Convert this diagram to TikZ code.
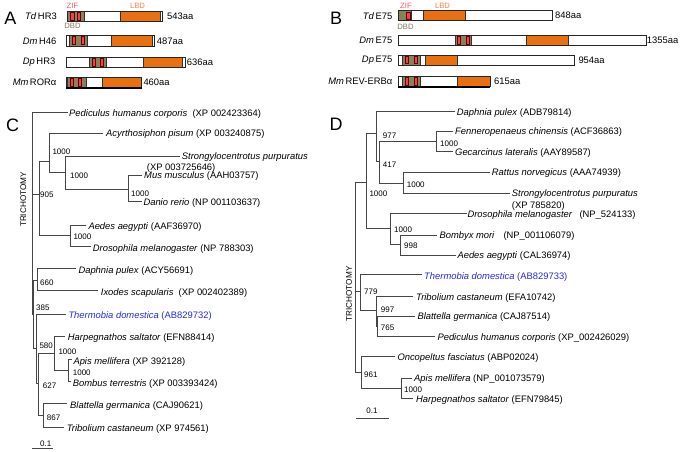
\documentclass[tikz,border=0pt]{standalone}
\usepackage{fontspec}
\setmainfont{Liberation Sans}
\definecolor{dbd}{RGB}{140,128,88}
\definecolor{zif}{RGB}{230,70,80}
\definecolor{lbd}{RGB}{232,112,16}
\definecolor{zifl}{RGB}{240,90,100}
\definecolor{lbdl}{RGB}{240,130,70}
\definecolor{dbdl}{RGB}{130,120,100}
\definecolor{tdblue}{RGB}{40,40,230}
\definecolor{treegray}{RGB}{70,70,70}
\newcommand\tleaf[6]{%
  \coordinate (#1) at (#3,#2);
  \node[leaftext] (#1t) at (#4,#5) {#6};}
\newcommand\tjoin[3]{\draw[tree] (#2) -- (#1 |- #2) -- (#1 |- #3) -- (#3);}
\newcommand\dseg[5]{\filldraw[fill=#5,draw=black!80,line width=0.6pt] (#1,#3) rectangle (#2,#4);}
\newcommand\dzif[4]{\filldraw[fill=zif,draw=black!60!red,line width=0.5pt] (#1,#3) rectangle (#2,#4);}
\newcommand\dbar[4]{\draw[bar] (#1,#3) rectangle (#2,#4);}
\begin{document}
\begin{tikzpicture}[x=1pt,y=-1pt,
  tree/.style={draw=treegray,line width=0.8pt},
  leaftext/.style={inner sep=0pt,anchor=west,font=\fontsize{9.4}{11}\selectfont},
  boot/.style={inner sep=0pt,anchor=west,font=\fontsize{8}{9}\selectfont},
  lab/.style={inner sep=0pt,anchor=east,font=\fontsize{9.4}{11}\selectfont},
  len/.style={inner sep=0pt,anchor=west,font=\fontsize{9.4}{11}\selectfont},
  dom/.style={inner sep=0pt,font=\fontsize{7.7}{9}\selectfont},
  panel/.style={inner sep=0pt,font=\fontsize{18}{20}\selectfont},
  tri/.style={inner sep=0pt,rotate=90,font=\fontsize{8.2}{9}\selectfont},
  bar/.style={draw=black!85,line width=0.8pt}]
\useasboundingbox (0,0) rectangle (683,452);

% ---------------- Panel A ----------------
\node[panel] (pA) at (10.5,18.5) {A};
\node[dom,text=zifl] (aZIF) at (72.5,5.5) {ZIF};
\node[dom,text=lbdl] (aLBD) at (137.5,5.5) {LBD};
\node[dom,text=dbdl] (aDBD) at (72.5,26) {DBD};
% TdHR3
\fill[white] (67.3,11) rectangle (162.7,21.7);
\dseg{67.3}{84.3}{11}{21.7}{dbd}
\dzif{70.7}{74}{12.7}{20}\dzif{77.3}{80.7}{12.7}{20}
\dseg{120.3}{160.7}{11}{21.7}{lbd}
\dbar{67.3}{162.7}{11}{21.7}
\node[lab] (aTd) at (57,16.3) {\textit{Td}\,HR3};
\node[len] (aTdL) at (167,16.3) {543aa};
% DmH46
\dseg{69.3}{87.3}{35}{46}{dbd}
\dzif{72}{75}{36.7}{44.3}\dzif{81}{84}{36.7}{44.3}
\dseg{111.7}{152.7}{35}{46}{lbd}
\dbar{66.7}{154.3}{35}{46}
\node[lab] (aDm) at (56.5,41) {\textit{Dm}\,H46};
\node[len] (aDmL) at (156.7,41) {487aa};
% DpHR3
\dseg{89.3}{106.7}{57}{67.5}{dbd}
\dzif{92}{95.3}{58.7}{65.8}\dzif{100}{103.3}{58.7}{65.8}
\dseg{143.3}{182.7}{57}{67.5}{lbd}
\dbar{66}{185}{57}{67.5}
\node[lab] (aDp) at (55.5,62.3) {\textit{Dp}\,HR3};
\node[len] (aDpL) at (186.7,62.3) {636aa};
% MmRORa
\dseg{67}{86}{77}{87.7}{dbd}
\dzif{70}{73.3}{78.7}{86}\dzif{78.3}{81.7}{78.7}{86}
\dseg{102.3}{141.7}{77}{87.7}{lbd}
\dbar{66}{141.7}{77}{87.7}
\draw[line width=1.6pt] (66,88) -- (142,88);
\node[lab] (aMm) at (56.5,82.3) {\textit{Mm}\,RORα};
\node[len] (aMmL) at (143.3,82.3) {460aa};

% ---------------- Panel B ----------------
\node[panel] (pB) at (336,18.5) {B};
\node[dom,text=zifl] (bZIF) at (406,5.5) {ZIF};
\node[dom,text=lbdl] (bLBD) at (442.5,5.5) {LBD};
\node[dom,text=dbdl] (bDBD) at (405.5,26.7) {DBD};
% TdE75
\dseg{398.3}{411.5}{10.7}{20.7}{dbd}
\dzif{406.5}{410.3}{12.3}{19}
\dseg{423.3}{465}{10.7}{20.7}{lbd}
\dbar{398.3}{552.3}{10.7}{20.7}
\node[lab] (bTd) at (392.5,15.7) {\textit{Td}\,E75};
\node[len] (bTdL) at (555,15.7) {848aa};
% DmE75
\dseg{455}{471.7}{35}{45.7}{dbd}
\dzif{457.3}{460.7}{36.7}{44}\dzif{466}{469.3}{36.7}{44}
\dseg{526.7}{568.3}{35}{45.7}{lbd}
\dbar{398.3}{646}{35}{45.7}
\node[lab] (bDm) at (392.5,40.5) {\textit{Dm}\,E75};
\node[len] (bDmL) at (646.7,40.5) {1355aa};
% DpE75
\dseg{402.7}{420}{55}{65}{dbd}
\dzif{405}{408.3}{56.7}{63.3}\dzif{414}{417.3}{56.7}{63.3}
\dseg{425}{457.3}{55}{65}{lbd}
\dbar{398.3}{574.3}{55}{65}
\node[lab] (bDp) at (392.5,60.5) {\textit{Dp}\,E75};
\node[len] (bDpL) at (578.3,60.5) {954aa};
% MmREV-ERBa
\dseg{402.7}{420}{76}{86.7}{dbd}
\dzif{405}{408.3}{77.7}{85}\dzif{414}{417.3}{77.7}{85}
\dseg{457.3}{490}{76}{86.7}{lbd}
\dbar{398.3}{490}{76}{86.7}
\draw[line width=1.6pt] (398.3,87) -- (490.3,87);
\node[lab] (bMm) at (392.5,81.5) {\textit{Mm}\,REV-ERBα};
\node[len] (bMmL) at (494,81.5) {615aa};

% ---------------- Panel C ----------------
\node[panel] (pC) at (12.5,125) {C};
\node[tri] (cTRI) at (23.3,199.5) {TRICHOTOMY};
\tleaf{cPed}{112}{68}{69}{114}{\textit{Pediculus humanus corporis}\ \ (XP 002423364)}
\tleaf{cAcy}{133}{103.3}{106}{134.5}{\textit{Acyrthosiphon pisum} (XP 003240875)}
\tleaf{cStr}{156}{180}{181.7}{157}{\textit{Strongylocentrotus purpuratus}}
\node[leaftext] (cStr2) at (146.7,168.5) {(XP 003725646)};
\tleaf{cMus}{175.5}{141.7}{144}{176.5}{\textit{Mus musculus} (AAH03757)}
\tleaf{cDan}{201.7}{141.7}{143.3}{203.3}{\textit{Danio rerio} (NP 001103637)}
\tleaf{cAed}{225}{86}{88.3}{227}{\textit{Aedes aegypti} (AAF36970)}
\tleaf{cDro}{246}{90.7}{92.7}{249}{\textit{Drosophila melanogaster} (NP 788303)}
\tleaf{cDap}{268.3}{76}{78.3}{271.5}{\textit{Daphnia pulex} (ACY56691)}
\tleaf{cIxo}{290.7}{98.3}{100.7}{292.7}{\textit{Ixodes scapularis}\ \ (XP 002402389)}
\tleaf{cThe}{314.3}{66}{68.3}{315.7}{\color{tdblue}\textit{Thermobia domestica} (AB829732)}
\tleaf{cHar}{336.7}{65}{67.7}{338}{\textit{Harpegnathos saltator} (EFN88414)}
\tleaf{cApi}{359.3}{71.7}{73.3}{361.7}{\textit{Apis mellifera} (XP 392128)}
\tleaf{cBom}{381.7}{71}{72.7}{384}{\textit{Bombus terrestris} (XP 003393424)}
\tleaf{cBla}{403.3}{66.7}{70}{405.7}{\textit{Blattella germanica} (CAJ90621)}
\tleaf{cTri}{427.3}{64}{66.7}{429.3}{\textit{Tribolium castaneum} (XP 974561)}
\coordinate (cRoot) at (32.3,314);
\coordinate (c905) at (39.3,194.3);
\coordinate (cN1a) at (49,161.7);
\coordinate (cN1b) at (65.7,172);
\coordinate (cN1c) at (128.3,189);
\coordinate (cN1e) at (70,235);
\coordinate (cRest) at (33.3,314);
\coordinate (c660) at (37.3,280);
\coordinate (c385) at (36,348);
\coordinate (c627) at (38.3,383.3);
\coordinate (c580) at (54.3,353.3);
\coordinate (c1d) at (68.3,370.7);
\coordinate (c867) at (43.3,415);
\tjoin{cN1c}{cMus}{cDan}
\tjoin{cN1b}{cStr}{cN1c}
\tjoin{cN1a}{cAcy}{cN1b}
\tjoin{cN1e}{cAed}{cDro}
\tjoin{c905}{cN1a}{cN1e}
\tjoin{c660}{cDap}{cIxo}
\tjoin{c1d}{cApi}{cBom}
\tjoin{c580}{cHar}{c1d}
\tjoin{c867}{cBla}{cTri}
\tjoin{c627}{c580}{c867}
\tjoin{c385}{cThe}{c627}
\tjoin{cRest}{c660}{c385}
\tjoin{cRoot}{cPed}{cRest}
\draw[tree] (cRoot |- c905) -- (c905);
\node[boot] (bc1) at (52.3,151.7) {1000};
\node[boot] (bc2) at (70,176) {1000};
\node[boot] (bc3) at (131,194) {1000};
\node[boot] (bc4) at (40,195) {905};
\node[boot] (bc5) at (73.3,236.7) {1000};
\node[boot] (bc6) at (40,282.7) {660};
\node[boot] (bc7) at (36,307.3) {385};
\node[boot] (bc8) at (39.3,346) {580};
\node[boot] (bc9) at (58.3,351.7) {1000};
\node[boot] (bc10) at (72.7,372.3) {1000};
\node[boot] (bc11) at (42.7,385.7) {627};
\node[boot] (bc12) at (46.7,417.3) {867};
\coordinate (cS0) at (31.7,448.3);
\coordinate (cS1) at (53.3,448.3);
\draw[tree] (cS0) -- (cS1);
\node[boot,anchor=center] (cSl) at (45.8,443.5) {0.1};

% ---------------- Panel D ----------------
\node[panel] (pD) at (336,124.5) {D};
\node[tri] (dTRI) at (349,294) {TRICHOTOMY};
\tleaf{dDap}{111}{455}{456.7}{113}{\textit{Daphnia pulex} (ADB79814)}
\tleaf{dFen}{131.7}{453.3}{455}{132.5}{\textit{Fenneropenaeus chinensis} (ACF36863)}
\tleaf{dGec}{151.7}{453.3}{455}{153.3}{\textit{Gecarcinus lateralis} (AAY89587)}
\tleaf{dRat}{172.7}{490}{491.7}{173.5}{\textit{Rattus norvegicus} (AAA74939)}
\tleaf{dStr}{193.3}{510}{511.7}{194.5}{\textit{Strongylocentrotus purpuratus}}
\node[leaftext] (dStr2) at (511.7,206) {(XP 785820)};
\tleaf{dDro}{213.3}{466.7}{467.3}{215}{\textit{Drosophila melanogaster}}
\node[leaftext] (dDro2) at (579.3,215) {(NP\_524133)};
\tleaf{dBom}{235}{436.7}{439.3}{235.7}{\textit{Bombyx mori}}
\node[leaftext] (dBom2) at (503.3,235.7) {(NP\_001106079)};
\tleaf{dAed}{255}{456}{457.3}{256}{\textit{Aedes aegypti} (CAL36974)}
\tleaf{dThe}{274}{421.7}{424}{277}{\color{tdblue}\textit{Thermobia domestica} (AB829733)}
\tleaf{dTri}{296}{413.3}{416}{297.7}{\textit{Tribolium castaneum} (EFA10742)}
\tleaf{dBla}{316.7}{415}{417.3}{317.3}{\textit{Blattella germanica} (CAJ87514)}
\tleaf{dPed}{336.7}{435}{437.3}{338.3}{\textit{Pediculus humanus corporis} (XP\_002426029)}
\tleaf{dOnc}{356.7}{395}{397.3}{358.3}{\textit{Oncopeltus fasciatus} (ABP02024)}
\tleaf{dApi}{378.3}{411.7}{414}{379.3}{\textit{Apis mellifera} (NP\_001073579)}
\tleaf{dHar}{398.3}{413.3}{416}{400}{\textit{Harpegnathos saltator} (EFN79845)}
\coordinate (dRoot) at (355.7,291.7);
\coordinate (dN1a) at (366,182.7);
\coordinate (dA) at (376.7,133.3);
\coordinate (dB) at (379.3,161.7);
\coordinate (dFenN) at (436.7,141.7);
\coordinate (dRatN) at (403.3,183);
\coordinate (dIns) at (390.7,228.3);
\coordinate (dBomN) at (400.7,244);
\coordinate (d779) at (360.7,291.7);
\coordinate (d997) at (376,310);
\coordinate (d765) at (377.3,326.7);
\coordinate (d961) at (361.7,372.7);
\coordinate (dApiN) at (401,388.3);
\tjoin{dFenN}{dFen}{dGec}
\tjoin{dRatN}{dRat}{dStr}
\tjoin{dB}{dFenN}{dRatN}
\tjoin{dA}{dDap}{dB}
\tjoin{dBomN}{dBom}{dAed}
\tjoin{dIns}{dDro}{dBomN}
\tjoin{dN1a}{dA}{dIns}
\tjoin{d765}{dBla}{dPed}
\tjoin{d997}{dTri}{d765}
\tjoin{d779}{dThe}{d997}
\tjoin{dApiN}{dApi}{dHar}
\tjoin{d961}{dOnc}{dApiN}
\tjoin{dRoot}{dN1a}{d961}
\draw[tree] (dRoot |- d779) -- (d779);
\node[boot] (bd1) at (382.7,136) {977};
\node[boot] (bd2) at (382.7,165) {417};
\node[boot] (bd3) at (369.3,193.3) {1000};
\node[boot] (bd4) at (440,143.3) {1000};
\node[boot] (bd5) at (406.7,185) {1000};
\node[boot] (bd6) at (394,230) {1000};
\node[boot] (bd7) at (404,246) {998};
\node[boot] (bd8) at (364,291.7) {779};
\node[boot] (bd9) at (380.7,309.3) {997};
\node[boot] (bd10) at (380.7,327.3) {765};
\node[boot] (bd11) at (364,375) {961};
\node[boot] (bd12) at (404,390) {1000};
\coordinate (dS0) at (355.7,418.3);
\coordinate (dS1) at (389,418.3);
\draw[tree] (dS0) -- (dS1);
\node[boot,anchor=center] (dSl) at (372,410.7) {0.1};
\end{tikzpicture}
\end{document}
